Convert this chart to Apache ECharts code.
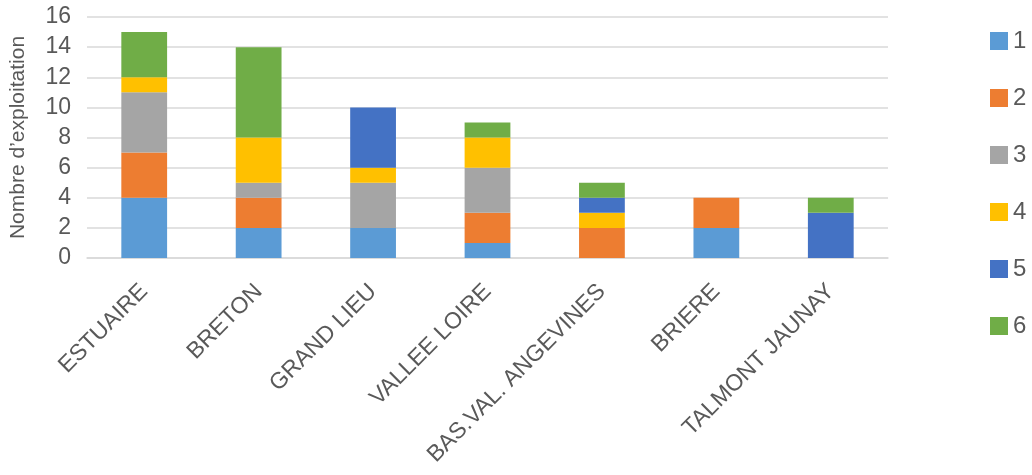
<!DOCTYPE html>
<html>
<head>
<meta charset="utf-8">
<script src="https://cdn.jsdelivr.net/npm/echarts@6/dist/echarts.min.js"></script>
<style>
  html, body { margin: 0; padding: 0; background: #fff; }
  #chart { width: 1032px; height: 475px; }
</style>
</head>
<body>
<div id="chart"></div>
<script>
// categories (regions)
var categories = ["ESTUAIRE", "BRETON", "GRAND LIEU", "VALLEE LOIRE", "BAS.VAL. ANGEVINES", "BRIERE", "TALMONT JAUNAY"];
var seriesNames = ["1", "2", "3", "4", "5", "6"];
// values per series, one per category
var s1 = [4, 2, 2, 1, 0, 2, 0];
var s2 = [3, 2, 0, 2, 2, 2, 0];
var s3 = [4, 1, 3, 3, 0, 0, 0];
var s4 = [1, 3, 1, 2, 1, 0, 0];
var s5 = [0, 0, 4, 0, 1, 0, 3];
var s6 = [3, 6, 0, 1, 1, 0, 1];
var yTicks = [0, 2, 4, 6, 8, 10, 12, 14, 16];

var colors = ["#5B9BD5", "#ED7D31", "#A5A5A5", "#FFC000", "#4472C4", "#70AD47"];
var allValues = [s1, s2, s3, s4, s5, s6];
var font = "Liberation Sans";

var chart = echarts.init(document.getElementById("chart"));

var series = [];
for (var i = 0; i < seriesNames.length; i++) {
  series.push({
    name: seriesNames[i],
    type: "bar",
    stack: "total",
    barWidth: "40%",
    data: allValues[i].map(function (v) { return v === 0 ? null : v; }),
    itemStyle: { color: colors[i] }
  });
}

chart.setOption({
  animation: false,
  color: colors,
  textStyle: { fontFamily: font },
  grid: {
    left: 86,
    right: 144,
    top: 17,
    bottom: 217
  },
  legend: {
    orient: "vertical",
    left: 985,
    top: 24,
    icon: "rect",
    itemWidth: 18,
    itemHeight: 18,
    itemGap: 33,
    data: seriesNames,
    textStyle: { color: "#595959", fontSize: 24, fontFamily: font }
  },
  xAxis: {
    type: "category",
    data: categories,
    axisTick: { show: false },
    axisLine: { lineStyle: { color: "#d9d9d9", width: 1.5 } },
    axisLabel: {
      color: "#595959",
      fontSize: 23,
      rotate: 45,
      interval: 0,
      margin: 30,
      fontFamily: font
    }
  },
  yAxis: {
    type: "value",
    min: 0,
    max: yTicks[yTicks.length - 1],
    interval: 2,
    name: "Nombre d\u2019exploitation",
    nameLocation: "middle",
    nameGap: 58,
    nameTextStyle: { color: "#595959", fontSize: 21, fontFamily: font },
    axisLine: { show: false },
    axisTick: { show: false },
    axisLabel: { color: "#595959", fontSize: 23, margin: 16, fontFamily: font },
    splitLine: { lineStyle: { color: "#d9d9d9", width: 1.5 } }
  },
  series: series
});
</script>
</body>
</html>
